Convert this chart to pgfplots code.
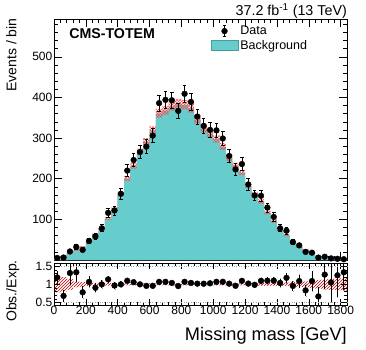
\documentclass[border=0pt]{standalone}
\usepackage{pgfplots}
\pgfplotsset{compat=1.18}
\usepackage{pgfplotstable}
\usetikzlibrary{patterns}
\usepackage{fontspec}
\setmainfont{Liberation Sans}

\definecolor{bkgcol}{RGB}{102,204,204}
\newcommand\tickfont{\fontsize{12}{14}\selectfont}
\newcommand\legfont{\fontsize{12.5}{14}\selectfont}
\newcommand\ylabfont{\fontsize{14}{16}\selectfont}

% lo = bin low edge, x = bin centre, rerr = error on Obs./Exp.
% last row (index 46) only closes the histogram
\pgfplotstableread{
lo   x    data bkg  unc   rerr
0    20   5    4.2  0.22  0.18
40   60   6    8.8  0.20  0.17
80   100  21   16   0.15  0.33
120  140  32   24   0.08  0.28
160  180  25   32   0.06  0.17
200  220  47   44   0.05  0.15
240  260  58   64   0.04  0.12
280  300  78   78   0.04  0.11
320  340  116  102  0.035 0.10
360  380  122  126  0.03  0.09
400  420  163  163  0.03  0.08
440  460  220  200  0.03  0.07
480  500  246  232  0.03  0.068
520  540  266  266  0.03  0.061
560  580  279  291  0.03  0.057
600  620  306  319  0.03  0.055
640  660  386  361  0.03  0.054
680  700  394  368  0.03  0.054
720  740  393  378  0.03  0.052
760  780  367  385  0.03  0.050
800  820  409  382  0.03  0.053
840  860  389  374  0.03  0.053
880  900  353  346  0.03  0.054
920  940  330  324  0.03  0.056
960  980  320  311  0.03  0.058
1000 1020 319  298  0.03  0.060
1040 1060 299  279  0.03  0.062
1080 1100 256  251  0.03  0.064
1120 1140 223  232  0.03  0.064
1160 1180 236  215  0.03  0.072
1200 1220 186  182  0.03  0.075
1240 1260 159  161  0.035 0.078
1280 1300 158  144  0.04  0.087
1320 1340 129  117  0.04  0.097
1360 1380 106  96   0.04  0.107
1400 1420 78   75   0.05  0.118
1440 1460 72   61   0.05  0.14
1480 1500 44   46   0.06  0.144
1520 1540 36   33   0.07  0.18
1560 1580 20   24   0.08  0.16
1600 1620 18   16.5 0.10  0.27
1640 1660 6    9    0.12  0.25
1680 1700 8    6.3  0.14  0.40
1720 1740 4    3.8  0.15  0.55
1760 1780 3    2.4  0.16  0.60
1800 1820 2    1.5  0.17  0.50
1840 1860 2    1.5  0.17  0.50
}\mmtab

\pgfplotsset{
  cmsaxis/.style={
    scale only axis, width=293pt,
    xmin=0, xmax=1840,
    tick align=inside,
    axis line style={line width=0.7pt},
    major tick length=8pt, minor tick length=4pt,
    every tick/.style={black, line width=0.5pt},
    xtick={0,200,...,1800}, minor xtick={0,40,...,1840},
    tick label style={font=\tickfont},
    yticklabel style={inner sep=1.5pt},
    xticklabel style={inner sep=1pt},
    /pgf/number format/assume math mode=true,
    /pgf/number format/1000 sep={},
  },
}

\begin{document}
\begin{tikzpicture}
\path[use as bounding box] (0,0) rectangle (366pt,349pt);

% upper panel
\begin{axis}[cmsaxis,
  at={(54pt,89pt)}, anchor=south west, height=241pt,
  ymin=0, ymax=593,
  ytick={100,200,300,400,500}, minor ytick={0,20,...,580},
  xticklabels={},
  legend style={at={(0.536,0.980)}, anchor=north west, draw=none, fill=none,
    font=\legfont, inner sep=0pt, row sep=0pt},
  legend cell align=left,
]
\addlegendimage{legend image code/.code={
  \path[draw=none, fill=none] (0cm,0cm) rectangle (0.94cm,0cm);
  \draw[black, line width=0.8pt] (0.46cm,-0.2cm) -- (0.46cm,0.2cm);
  \draw[black, line width=0.8pt] (0.40cm,0.2cm) -- (0.52cm,0.2cm);
  \draw[black, line width=0.8pt] (0.40cm,-0.2cm) -- (0.52cm,-0.2cm);
  \fill[black] (0.46cm,0cm) circle (2.9pt);}}
\addlegendentry{Data}
\addlegendimage{legend image code/.code={
  \filldraw[fill=bkgcol, draw=bkgcol!75!black, line width=0.4pt]
    (0cm,-0.17cm) rectangle (0.94cm,0.17cm);}}
\addlegendentry{Background}

% background, then its hatched uncertainty band
\addplot[const plot, fill=bkgcol, draw=none, forget plot]
  table[x=lo, y=bkg] {\mmtab} \closedcycle;
\addplot[const plot, draw=none, pattern=crosshatch, pattern color=red!70, forget plot]
  table[x=lo, y expr=\thisrow{bkg}*(1+\thisrow{unc})] {\mmtab} \closedcycle;
\addplot[const plot, draw=none, fill=bkgcol, forget plot]
  table[x=lo, y expr=\thisrow{bkg}*(1-\thisrow{unc})] {\mmtab} \closedcycle;

\addplot[only marks, mark=*, mark size=2.9pt, black, forget plot,
  skip coords between index={46}{47},
  error bars/.cd, y dir=both, y explicit,
  error bar style={line width=0.8pt},
  error mark options={rotate=90, mark size=1.8pt, line width=0.8pt}]
  table[x=x, y=data, y error expr=sqrt(\thisrow{data})] {\mmtab};

\node[anchor=west, font=\fontsize{14.2}{16}\selectfont\bfseries] at (rel axis cs:0.040,0.938) {CMS-TOTEM};
\end{axis}

% ratio panel
\begin{axis}[cmsaxis,
  at={(54pt,44pt)}, anchor=south west, height=42pt,
  ymin=0.43, ymax=1.59,
  ytick={0.5,1,1.5}, minor ytick={0.5,0.6,...,1.5},
  major tick length=6pt, minor tick length=3pt,
  axis on top,
  extra y ticks={0.5,1.5}, extra y tick labels={},
  extra y tick style={grid=major, major grid style={gray!70, dotted, line width=0.6pt}},
]
\addplot[const plot, draw=none, pattern=north east lines, pattern color=red!80!black]
  table[x=lo, y expr=1+\thisrow{unc}] {\mmtab} \closedcycle;
\addplot[const plot, draw=none, fill=white]
  table[x=lo, y expr=1-\thisrow{unc}] {\mmtab} \closedcycle;

\addplot[only marks, mark=*, mark size=2.9pt, black,
  skip coords between index={46}{47},
  error bars/.cd, y dir=both, y explicit,
  error bar style={line width=0.8pt},
  error mark options={rotate=90, mark size=0.01pt}]
  table[x=x, y expr=\thisrow{data}/\thisrow{bkg}, y error=rerr] {\mmtab};
\end{axis}

% titles and axis labels
\node[anchor=base east, inner sep=0pt, font=\fontsize{14.3}{16}\selectfont]
  at (347pt,333pt) {37.2 fb\textsuperscript{-1} (13 TeV)};
\node[rotate=90, anchor=base, inner sep=0pt, font=\ylabfont]
  at (16.5pt,294pt) {Events / bin};
\node[rotate=90, anchor=base, inner sep=0pt, font=\ylabfont]
  at (16.5pt,58pt) {Obs./Exp.};
\node[anchor=base east, inner sep=0pt, font=\fontsize{18.2}{20}\selectfont]
  at (347pt,8.5pt) {Missing mass [GeV]};
\end{tikzpicture}
\end{document}
